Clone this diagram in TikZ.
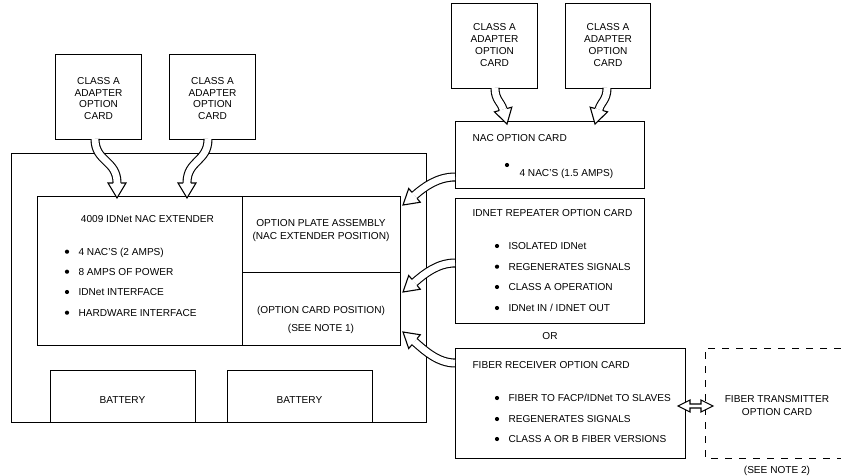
\documentclass[tikz,border=0pt]{standalone}
\usepackage{fontspec}
\setmainfont{Liberation Sans}
\usetikzlibrary{calc}
\newcommand\fatarr[5]{% start, c1, c2, tip, angle
  \coordinate (fb) at ($(#4)+(#5+180:15)$);
  \draw[line width=1.1pt, double=white, double distance=6.8pt] (#1) .. controls (#2) and (#3) .. (fb);
  \fill[white] ($(fb)+(#5+90:9)$) -- (#4) -- ($(fb)+(#5-90:9)$) -- cycle;
  \draw[line width=1.1pt, line join=miter] ($(fb)+(#5+90:3.95)$) -- ($(fb)+(#5+90:9)$) -- (#4) -- ($(fb)+(#5-90:9)$) -- ($(fb)+(#5-90:3.95)$);
}
\begin{document}
\begin{tikzpicture}[x=1pt,y=-1pt,line width=1.1pt,
  box/.style={draw, line width=1.1pt, inner sep=0pt, anchor=north west},
  txt/.style={font=\fontsize{10.1}{11.8}\selectfont, inner sep=0pt},
  lt/.style={txt, anchor=base west},
  ct/.style={txt, anchor=base},
  mt/.style={txt, align=center, anchor=center},
  bul/.style={circle, fill=black, inner sep=0pt, minimum size=4.2pt}]
\useasboundingbox (0,0) rectangle (841,476);
\fill[white] (0,0) rectangle (841,476);

% main enclosure
\node[box, minimum width=415pt, minimum height=269pt] (outer) at (11,153) {};
\node[box, minimum width=205pt, minimum height=149pt] (ext) at (37,196) {};
\node[box, minimum width=158pt, minimum height=76pt] (plate) at (242,196) {};
\node[box, minimum width=158pt, minimum height=73pt] (optpos) at (242,272) {};
\node[box, minimum width=145pt, minimum height=52pt] (bat1) at (50,370) {};
\node[box, minimum width=145pt, minimum height=52pt] (bat2) at (227,370) {};

\node[ct] (extT) at (147.5,222.5) {4009 IDNet NAC EXTENDER};
\foreach \yy/\tt [count=\i] in {251.7/{4 NAC'S (2 AMPS)}, 271.7/{8 AMPS OF POWER}, 292/{IDNet INTERFACE}, 312.7/{HARDWARE INTERFACE}}{
  \node[bul] (eb\i) at (67,\yy) {};
  \node[lt] (et\i) at (78,\yy+3.6) {\tt};
}
\node[mt] (plateT) at (321,230.5) {OPTION PLATE ASSEMBLY\\[1.2pt](NAC EXTENDER POSITION)};
\node[ct] (optT1) at (321,313.6) {(OPTION CARD POSITION)};
\node[ct] (optT2) at (321,331.6) {(SEE NOTE 1)};
\node[ct] (batT1) at (122.5,403.6) {BATTERY};
\node[ct] (batT2) at (299.5,403.6) {BATTERY};

% class A adapter cards
\node[box, minimum width=86pt, minimum height=85pt] (ca1) at (55,54) {};
\node[box, minimum width=86pt, minimum height=85pt] (ca2) at (169,54) {};
\node[box, minimum width=86pt, minimum height=85pt] (ca3) at (451,3) {};
\node[box, minimum width=85pt, minimum height=85pt] (ca4) at (565,3) {};
\node[mt] (ca1T) at ($(ca1.center)+(0,1.5)$) {CLASS A\\ADAPTER\\OPTION\\CARD};
\node[mt] (ca2T) at ($(ca2.center)+(0,1.5)$) {CLASS A\\ADAPTER\\OPTION\\CARD};
\node[mt] (ca3T) at ($(ca3.center)+(0,-1)$) {CLASS A\\ADAPTER\\OPTION\\CARD};
\node[mt] (ca4T) at ($(ca4.center)+(0,-1)$) {CLASS A\\ADAPTER\\OPTION\\CARD};

% right option cards
\node[box, minimum width=189pt, minimum height=67pt] (nac) at (455,121) {};
\node[lt] (nacT) at (472,141.6) {NAC OPTION CARD};
\node[bul] (nb1) at (507,165) {};
\node[lt] (nt1) at (519,176.6) {4 NAC'S (1.5 AMPS)};

\node[box, minimum width=189pt, minimum height=125pt] (rep) at (455,198) {};
\node[lt] (repT) at (472,216.6) {IDNET REPEATER OPTION CARD};
\foreach \yy/\tt [count=\i] in {246/{ISOLATED IDNet}, 266.7/{REGENERATES SIGNALS}, 287/{CLASS A OPERATION}, 308/{IDNet IN / IDNET OUT}}{
  \node[bul] (rb\i) at (497,\yy) {};
  \node[lt] (rt\i) at (508,\yy+3.6) {\tt};
}
\node[ct] (orT) at (550,339.6) {OR};

\node[box, minimum width=230pt, minimum height=110pt] (frx) at (455,348) {};
\node[lt] (frxT) at (472,368.6) {FIBER RECEIVER OPTION CARD};
\foreach \yy/\tt [count=\i] in {398/{FIBER TO FACP/IDNet TO SLAVES}, 419/{REGENERATES SIGNALS}, 439/{CLASS A OR B FIBER VERSIONS}}{
  \node[bul] (fb\i) at (497,\yy) {};
  \node[lt] (ft\i) at (508,\yy+3.6) {\tt};
}

% fiber transmitter (dashed, open to the right)
\coordinate (txNE) at (841,348);
\coordinate (txNW) at (705,348);
\coordinate (txSW) at (705,458);
\coordinate (txSE) at (841,458);
\draw[line width=1pt, dash pattern=on 7pt off 7pt] (txNE) -- (txNW) -- (txSW) -- (txSE);
\node[mt] (txT) at (777,405.5) {FIBER TRANSMITTER\\[1.2pt]OPTION CARD};
\node[ct] (note2) at (777,473.6) {(SEE NOTE 2)};

% double hollow arrow between receiver and transmitter
\coordinate (dl) at (678,406);
\coordinate (dr) at (713,406);
\draw[fill=white, line join=miter, line width=1.1pt] (dl) -- ++(12,-6) -- ++(0,4) -- ++(11,0) -- ++(0,-4) -- (dr) -- ++(-12,6) -- ++(0,-4) -- ++(-11,0) -- ++(0,4) -- cycle;

% fat arrows: adapter cards into extender
\coordinate (s1) at (95,139);   \coordinate (t1) at (117,198);
\coordinate (s2) at (208,139);  \coordinate (t2) at (187,198);
\fatarr{s1}{95,162}{117,160}{t1}{90}
\fatarr{s2}{208,162}{187,160}{t2}{90}
% adapter cards into NAC option card
\coordinate (s3) at (495,88);   \coordinate (t3) at (507,124);
\coordinate (s4) at (607,88);   \coordinate (t4) at (595,124);
\fatarr{s3}{495,100}{501,101.8}{t3}{75}
\fatarr{s4}{607,100}{601,101.8}{t4}{105}
% option cards into option plate
\coordinate (s5) at (455,177);  \coordinate (t5) at (403,205);
\coordinate (s6) at (455,263);  \coordinate (t6) at (403,292);
\coordinate (s7) at (455,363);  \coordinate (t7) at (403,332);
\fatarr{s5}{438,177}{424.5,186.5}{t5}{140}
\fatarr{s6}{438,263}{424.5,273.5}{t6}{140}
\fatarr{s7}{438,363}{424.5,350.5}{t7}{220}
\end{tikzpicture}
\end{document}
